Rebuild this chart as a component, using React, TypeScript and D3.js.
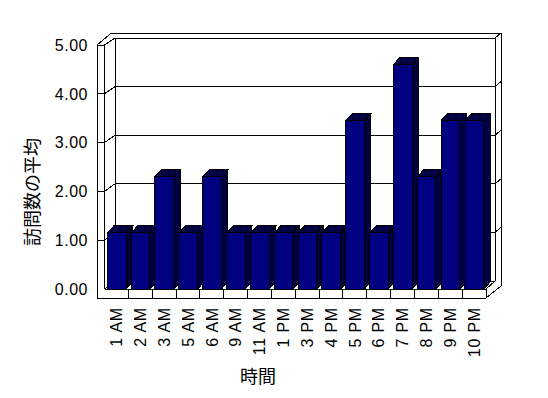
import React from "react";
import * as d3 from "d3";

const categories = ["1 AM", "2 AM", "3 AM", "5 AM", "6 AM", "9 AM", "11 AM", "1 PM", "3 PM", "4 PM", "5 PM", "6 PM", "7 PM", "8 PM", "9 PM", "10 PM"];
const values = [1.15, 1.15, 2.3, 1.15, 2.3, 1.15, 1.15, 1.15, 1.15, 1.15, 3.45, 1.15, 4.6, 2.3, 3.45, 3.45];
const yTicks = [0, 1, 2, 3, 4, 5];
const xTitle = "時間";
const yTitle = "訪問数の平均";

export default function App() {
  const W = 548, H = 398;
  const xFront = d3.scaleBand<string>().domain(categories).range([104.5, 486]).paddingInner(0).paddingOuter(0);
  const yFront = d3.scaleLinear().domain([0, 5]).range([289, 45]);
  const yBack = d3.scaleLinear().domain([0, 5]).range([281, 38]);
  const backL = 115, backR = 495, frontL = 104.5, outerL = 97, outerR = 501, outerT = 33, outerB = 298;
  const bw = xFront.bandwidth();
  const barOff = 2.8, barW = 18.7, ddx = 6.5, ddy = -7;
  const num = d3.format(".2f");
  const lineStyle = { stroke: "#000", strokeWidth: 1, fill: "none" } as const;
  const labelFont = "'Liberation Sans', Arial, sans-serif";
  const cjkFont = "'Noto Sans CJK JP', sans-serif";

  return (
    <svg width={W} height={H} style={{ position: "absolute", left: 0, top: 0, background: "#fff" }} shapeRendering="crispEdges">
      <defs>
        <pattern id="dither" width="2" height="2" patternUnits="userSpaceOnUse">
          <rect x="0" y="0" width="2" height="2" fill="#000" />
          <rect x="0" y="0" width="1" height="1" fill="#000080" />
          <rect x="1" y="1" width="1" height="1" fill="#000080" />
        </pattern>
      </defs>
      {yTicks.filter(v => v > 0 && v < 5).map(v => (
        <g key={"g" + v}>
          <line x1={backL} x2={backR} y1={yBack(v)} y2={yBack(v)} {...lineStyle} />
          <line x1={frontL} y1={yFront(v)} x2={backL} y2={yBack(v)} {...lineStyle} />
          <line x1={outerL} x2={frontL} y1={yFront(v)} y2={yFront(v)} {...lineStyle} />
          <line x1={backR} y1={yBack(v)} x2={outerR} y2={yBack(v) - 5} {...lineStyle} />
        </g>
      ))}
      <line x1={backL} x2={backR} y1={yBack(5)} y2={yBack(5)} {...lineStyle} />
      <line x1={backL} x2={backL} y1={yBack(5)} y2={yBack(0)} {...lineStyle} />
      <line x1={backR} x2={backR} y1={yBack(5)} y2={yBack(0)} {...lineStyle} />
      <line x1={backL} x2={backR} y1={yBack(0)} y2={yBack(0)} {...lineStyle} />
      <line x1={frontL} y1={yFront(5)} x2={backL} y2={yBack(5)} {...lineStyle} />
      <line x1={outerL} y1={yFront(5)} x2={outerL + 14.5} y2={outerT} {...lineStyle} />
      <line x1={outerL + 14.5} x2={outerR} y1={outerT} y2={outerT} {...lineStyle} />
      <line x1={backR} y1={yBack(5)} x2={outerR} y2={outerT} {...lineStyle} />
      <line x1={outerR} x2={outerR} y1={outerT} y2={286} {...lineStyle} />
      <line x1={outerR} y1={286} x2={486} y2={outerB} {...lineStyle} />
      <line x1={backR} y1={yBack(0)} x2={486} y2={yFront(0)} {...lineStyle} />
      <line x1={outerL} x2={frontL} y1={yFront(5)} y2={yFront(5)} {...lineStyle} />
      <line x1={outerL} x2={outerL} y1={yFront(5)} y2={outerB} {...lineStyle} />
      <line x1={frontL} x2={frontL} y1={yFront(5)} y2={yFront(0)} {...lineStyle} />
      <line x1={frontL} y1={yFront(0)} x2={backL} y2={yBack(0)} {...lineStyle} />
      {categories.map((c, i) => {
        const x0 = (xFront(c) as number) + barOff;
        const x1 = x0 + barW;
        const yt = yFront(values[i]);
        const yb = yFront(0);
        return (
          <g key={c}>
            <polygon points={`${x1},${yb} ${x1},${yt} ${x1 + ddx},${yt + ddy} ${x1 + ddx},${yb + ddy}`} fill="url(#dither)" stroke="#000" strokeWidth={1} />
            <polygon points={`${x0},${yt} ${x0 + ddx},${yt + ddy} ${x1 + ddx},${yt + ddy} ${x1},${yt}`} fill="url(#dither)" stroke="#000" strokeWidth={1} />
            <rect x={x0} y={yt} width={barW} height={yb - yt} fill="#000080" stroke="#000" strokeWidth={1} />
          </g>
        );
      })}
      <rect x={outerL} y={yFront(0)} width={486 - outerL} height={outerB - yFront(0)} fill="#fff" stroke="none" />
      <line x1={frontL} x2={486} y1={yFront(0)} y2={yFront(0)} {...lineStyle} />
      <line x1={outerL} x2={486} y1={outerB} y2={outerB} {...lineStyle} />
      <line x1={outerL} x2={outerL} y1={yFront(0)} y2={outerB} {...lineStyle} />
      <line x1={frontL} x2={frontL} y1={yFront(5)} y2={yFront(0)} {...lineStyle} />
      {categories.map(c => (
        <line key={"t" + c} x1={(xFront(c) as number) + bw} x2={(xFront(c) as number) + bw} y1={yFront(0)} y2={outerB} {...lineStyle} />
      ))}
      {yTicks.map(v => (
        <text key={"yl" + v} x={88} y={yFront(v)} dy="0.36em" textAnchor="end" fontFamily={labelFont} fontSize={16} letterSpacing={0.5} fill="#000">{num(v)}</text>
      ))}
      {categories.map(c => {
        const cx = (xFront(c) as number) + bw / 2;
        return (
          <text key={"xl" + c} transform={`translate(${cx},${307}) rotate(-90)`} dy="0.36em" textAnchor="end" fontFamily={labelFont} fontSize={16} letterSpacing={0.8} fill="#000">{c}</text>
        );
      })}
      <text x={258} y={377} dy="0.36em" textAnchor="middle" fontFamily={cjkFont} fontSize={18} fill="#000">{xTitle}</text>
      <text transform={`translate(33,192) rotate(-90)`} dy="0.36em" textAnchor="middle" fontFamily={cjkFont} fontSize={18} fill="#000">{yTitle}</text>
    </svg>
  );
}
